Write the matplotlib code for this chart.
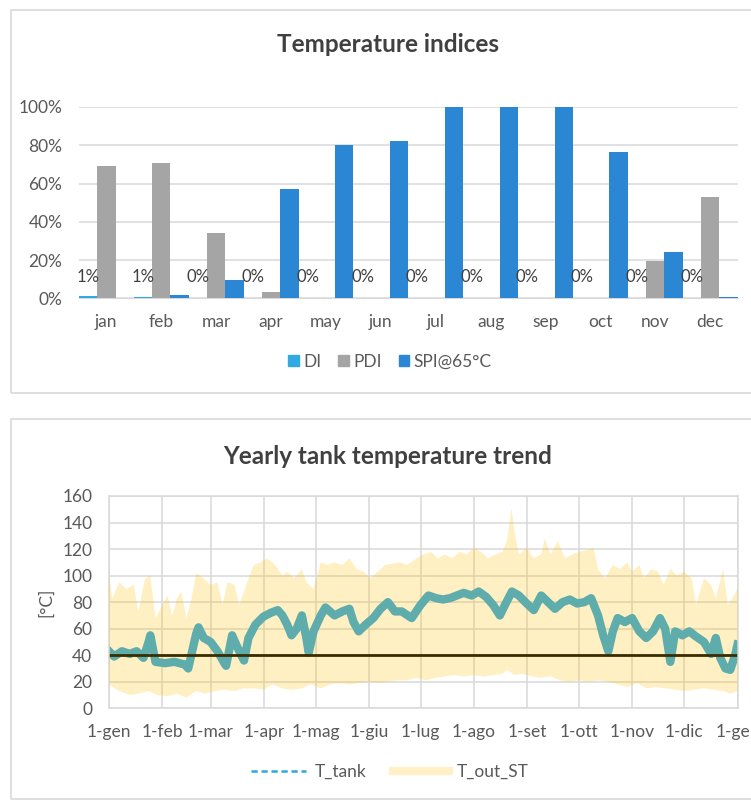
import numpy as np
import matplotlib
matplotlib.use("Agg")
import matplotlib.pyplot as plt
from matplotlib.lines import Line2D
from matplotlib.patches import Rectangle, Patch
from matplotlib.ticker import PercentFormatter

plt.rcParams["font.family"] = ["Lato", "DejaVu Sans"]

# --- top chart: monthly temperature indices (fraction of time) ---------------
months = ["jan", "feb", "mar", "apr", "may", "jun",
          "jul", "aug", "sep", "oct", "nov", "dec"]
di = [0.013, 0.006, 0.003, 0.0, 0.0, 0.0, 0.0, 0.0, 0.0, 0.002, 0.003, 0.003]
pdi = [0.694, 0.708, 0.343, 0.035, 0.0, 0.0, 0.0, 0.0, 0.0, 0.005, 0.198, 0.528]
spi = [0.0, 0.017, 0.096, 0.572, 0.799, 0.825, 1.0, 1.0, 1.0, 0.764, 0.245, 0.01]

# --- bottom chart: yearly tank temperature (day of year, °C) -----------------
tank_day = [0, 3, 7.5, 12, 16, 20, 23, 24, 27, 32.5, 38, 44, 46, 50.6, 52, 55, 59,
            63, 67, 68, 71.5, 75.6, 78.4, 81, 85, 89.6, 94, 98, 100.7, 103.5,
            106, 109, 112, 114.6, 116, 118.8, 123, 125.7, 131, 135.5, 139.6,
            142, 145, 149, 153.5, 157.7, 162, 166, 170, 175.8, 181, 185.5, 190,
            194, 198, 202, 206, 210.6, 214.7, 219, 223, 227, 230, 234, 238,
            242.6, 246.7, 251, 255, 259, 263.4, 267.6, 271.8, 276, 280, 284,
            287, 290, 292.6, 295.4, 299.6, 303.8, 308, 312, 316, 320, 323, 326,
            328.8, 333, 337, 341, 345.5, 349.7, 352.4, 355, 358, 360.8, 363.6, 365]
tank_temp = [43, 39, 43, 41, 43, 38, 50, 55, 35, 34, 35, 33, 30, 56, 61, 53, 50,
             43, 34, 32, 55, 43, 36, 53, 63, 69, 72, 74, 70, 63,
             55, 60, 70, 53, 42, 58, 70, 76, 70, 73, 75,
             65, 58, 63, 68, 75, 80, 73, 73, 68, 78, 85, 83,
             82, 83, 85, 87, 85, 88, 84, 78, 70, 78, 88, 85,
             79, 74, 85, 80, 75, 80, 82, 79, 80, 83, 70,
             55, 43, 58, 68, 65, 68, 58, 53, 58, 68, 60, 35,
             58, 55, 58, 54, 50, 41, 53, 38, 30, 29, 40, 48]

out_hi_day = [0, 2, 6, 10, 14.5, 17, 21, 24, 27, 31, 34, 36.7, 39.5, 42, 45, 48,
              50.6, 55, 59, 63, 66, 68.7, 73, 75.6, 78.4, 81, 84, 88, 92, 96.5,
              100.7, 103.5, 107.6, 112, 114.6, 118.8, 123, 127, 131, 135.5,
              139.6, 143.8, 148, 152, 156, 160.5, 164.7, 168.8, 173, 178.6,
              182.7, 187, 191, 195, 199.4, 203.6, 207.8, 212, 216, 220, 224.5,
              228.6, 231.4, 233.7, 235.6, 238, 242.6, 246.7, 251, 253, 256.5,
              260.6, 264.8, 269, 273, 277, 281.5, 284, 288, 292.6, 296.8, 301,
              303.8, 308, 310.7, 315, 319, 322, 326, 330, 334, 338.4, 341, 345.5,
              349.7, 352.4, 356.6, 359.4, 362, 365]
out_hi = [100, 83, 95, 90, 93, 73, 98, 100, 68, 78, 85, 70, 83, 88, 68, 83,
          102, 98, 93, 95, 78, 95, 93, 78, 88, 98, 108, 110, 113, 108,
          100, 103, 98, 105, 95, 90, 110, 108, 110, 108,
          113, 105, 103, 98, 103, 108, 109, 110, 108, 113,
          116, 118, 113, 116, 113, 118, 116, 121, 118, 113, 116,
          118, 128, 151, 133, 116, 121, 113, 116, 128, 116,
          126, 113, 116, 118, 119, 121, 105, 98, 108, 105, 110,
          103, 108, 98, 105, 103, 93, 105, 100, 103, 98, 78, 98,
          93, 83, 105, 78, 83, 90]

out_lo_day = [0, 6, 12, 17, 23, 28, 34, 39.5, 45, 50.6, 56, 62, 67, 73, 78, 84,
              89.6, 95, 100.7, 106, 112, 117, 123, 128.5, 134, 139.6, 145,
              150.8, 156, 162, 167, 173, 178.6, 184, 190, 195, 201, 206, 212,
              217.5, 223, 228.6, 231, 235.6, 240, 245, 251, 256.5, 262, 267.6,
              273, 278.7, 284, 290, 295.4, 301, 306.5, 312, 317.7, 323, 328.8,
              334, 340, 345.5, 351, 356.6, 360.8, 365]
out_lo = [18, 13, 10, 11, 13, 10, 9, 11, 8, 13, 11, 13, 14, 13, 15, 15,
          14, 18, 15, 14, 15, 18, 15, 18, 19, 18, 19,
          20, 19, 20, 21, 21, 23, 21, 23, 24, 25, 24, 25,
          24, 25, 26, 29, 25, 26, 24, 23, 24, 21, 20,
          21, 20, 21, 20, 18, 16, 19, 15, 16, 15, 14,
          13, 14, 15, 14, 13, 11, 13]

t_ref = 40
month_start = [0, 31, 59, 90, 120, 151, 181, 212, 243, 273, 304, 334, 365]
month_lbl = ["1-gen", "1-feb", "1-mar", "1-apr", "1-mag", "1-giu", "1-lug",
             "1-ago", "1-set", "1-ott", "1-nov", "1-dic", "1-gen"]

TXT = "#595959"
TITLE = "#404040"
GRID = "#D9D9D9"
C_DI, C_PDI, C_SPI = "#33A9E2", "#A5A5A5", "#2B86D4"

W, H = 751, 800
fig = plt.figure(figsize=(W / 100, H / 100), dpi=100)


def px_axes(x0, y0, x1, y1):
    """Axes from pixel box (top-left origin)."""
    return fig.add_axes([x0 / W, 1 - y1 / H, (x1 - x0) / W, (y1 - y0) / H])


# chart frames (Excel chart areas)
for (y0, y1) in ((9.5, 393), (419, 799)):
    fig.patches.append(Rectangle((10.5 / W, 1 - y1 / H), 1.2, (y1 - y0) / H,
                                 transform=fig.transFigure, fill=False,
                                 ec="#D9D9D9", lw=1.2))

# ---------------- top: Temperature indices ----------------
ax = px_axes(79, 107, 737.5, 298.5)
x = np.arange(len(months))
bw = 1 / 3
ax.bar(x - bw, di, bw, color=C_DI, zorder=3)
ax.bar(x, pdi, bw, color=C_PDI, zorder=3)
ax.bar(x + bw, spi, bw, color=C_SPI, zorder=3)
for xi, v in zip(x, di):
    ax.text(xi - bw, 0.112, f"{v:.0%}", ha="center", va="center",
            fontsize=12, color="#404040", zorder=4)
ax.set_xlim(-0.5, 11.5)
ax.set_ylim(0, 1.0)
ax.set_yticks(np.arange(0, 1.01, 0.2))
ax.yaxis.set_major_formatter(PercentFormatter(1.0, decimals=0))
ax.set_xticks(x)
ax.set_xticklabels(months)
ax.tick_params(axis="both", length=0, labelsize=12.5, colors=TXT)
ax.tick_params(axis="y", pad=12)
ax.tick_params(axis="x", pad=11)
ax.grid(axis="y", color=GRID, lw=1.1, zorder=0)
for s in ("top", "right", "left"):
    ax.spines[s].set_visible(False)
ax.spines["bottom"].set_color(GRID)
ax.spines["bottom"].set_zorder(2)
fig.text(388 / W, 1 - 45 / H, "Temperature indices", ha="center", va="center",
         fontsize=17.5, fontweight="bold", color=TITLE)
fig.legend(handles=[Patch(color=C_DI, label="DI"),
                    Patch(color=C_PDI, label="PDI"),
                    Patch(color=C_SPI, label="SPI@65°C")],
           loc="center", bbox_to_anchor=(390 / W, 1 - 362 / H), ncol=3,
           frameon=False, fontsize=12.5, labelcolor=TXT, handlelength=0.6,
           handleheight=0.6, handletextpad=0.25, columnspacing=1.0)

# ---------------- bottom: Yearly tank temperature trend ----------------
ax2 = px_axes(109, 496, 737.5, 708.3)
ax2.plot(tank_day, tank_temp, color="#2EA7E0", lw=6, zorder=2,
         solid_joinstyle="round")
ax2.axhline(t_ref, color="black", lw=2, zorder=2)
ax2.fill(np.r_[out_hi_day, out_lo_day[::-1]], np.r_[out_hi, out_lo[::-1]],
         color="#FFC000", alpha=0.23, lw=0, zorder=3)
ax2.set_xlim(0, 365)
ax2.set_ylim(0, 160)
ax2.set_yticks(range(0, 161, 20))
ax2.set_xticks(month_start)
ax2.set_xticklabels(month_lbl)
ax2.tick_params(axis="both", length=0, labelsize=12.5, colors=TXT)
ax2.tick_params(axis="y", pad=12)
ax2.tick_params(axis="x", pad=11)
ax2.grid(color=GRID, lw=1.1, zorder=0)
for s in ax2.spines.values():
    s.set_color(GRID)
    s.set_linewidth(1.1)
ax2.set_ylabel("[°C]", fontsize=12.5, color=TXT, labelpad=6)
fig.text(388 / W, 1 - 457 / H, "Yearly tank temperature trend", ha="center",
         va="center", fontsize=17.5, fontweight="bold", color=TITLE)
fig.legend(handles=[Line2D([], [], color="#2EA7E0", ls=(0, (2.5, 1.5)), lw=1.8,
                           label="T_tank"),
                    Line2D([], [], color="#FFF0C8", lw=6, label="T_out_ST")],
           loc="center", bbox_to_anchor=(390 / W, 1 - 772 / H), ncol=2,
           frameon=False, fontsize=12.5, labelcolor=TXT, handlelength=3.2,
           handletextpad=0.5, columnspacing=1.5)

fig.savefig("out.png", dpi=100)
